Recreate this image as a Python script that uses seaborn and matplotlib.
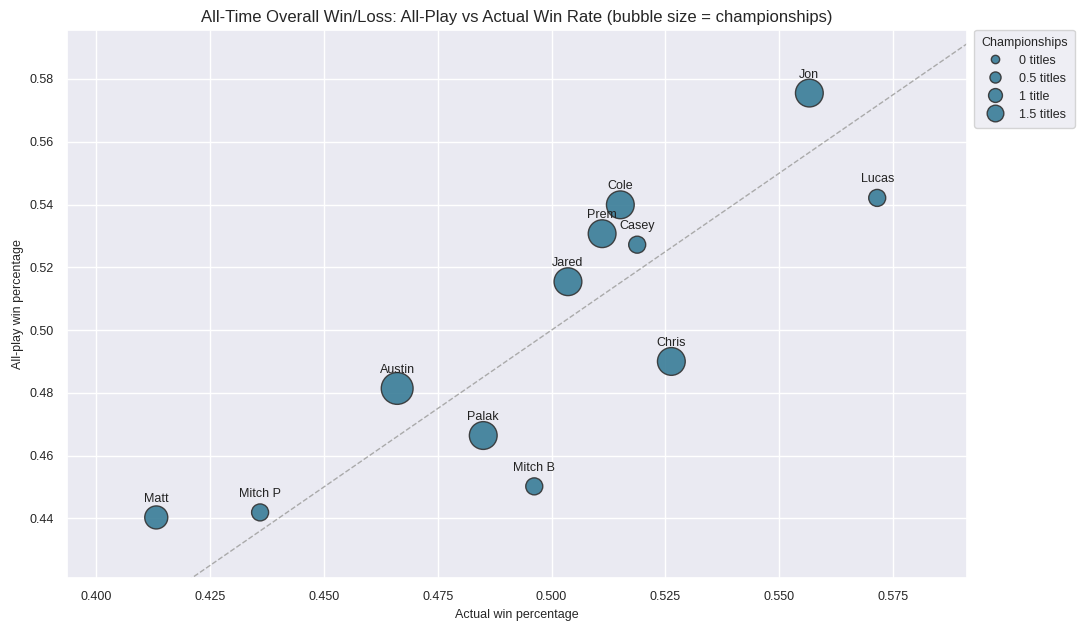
import matplotlib
matplotlib.use("Agg")
import matplotlib.pyplot as plt
from matplotlib.lines import Line2D
import seaborn as sns
import pandas as pd
import numpy as np

managers = ["Jon", "Lucas", "Cole", "Prem", "Casey", "Jared", "Chris",
            "Austin", "Palak", "Mitch B", "Mitch P", "Matt"]
actual_pct = [0.5566, 0.5715, 0.5151, 0.5111, 0.5188, 0.5036, 0.5263,
              0.4661, 0.4850, 0.4962, 0.4360, 0.4132]
allplay_pct = [0.5755, 0.5421, 0.5399, 0.5307, 0.5272, 0.5154, 0.4900,
               0.4814, 0.4664, 0.4502, 0.4419, 0.4403]
championships = [2, 0, 2, 2, 0, 2, 2, 3, 2, 0, 0, 1]

legend_labels = ["0 titles", "0.5 titles", "1 title", "1.5 titles"]
legend_msizes = [6.0, 8.0, 10.0, 12.0]

df = pd.DataFrame({"manager": managers, "actual": actual_pct,
                   "allplay": allplay_pct, "champs": championships})

sns.set_theme(style="darkgrid")
plt.rcParams["font.family"] = ["Liberation Sans", "DejaVu Sans"]

fig, ax = plt.subplots(figsize=(10.84, 6.34), dpi=100)
fig.subplots_adjust(left=0.0618, right=0.892, top=0.9527, bottom=0.0883)

face = "#387c97"
sns.scatterplot(data=df, x="actual", y="allplay", size="champs",
                sizes=(150, 525), size_norm=(0, 3), color=face, alpha=0.9,
                edgecolor="#333333", linewidth=1.0, legend=False, ax=ax, zorder=3)

for _, r in df.iterrows():
    ax.annotate(r["manager"], (r["actual"], r["allplay"]), xytext=(0, 9),
                textcoords="offset points", ha="center", va="bottom",
                fontsize=9, color="#222222", zorder=4)

lo, hi = 0.38, 0.62
ax.plot([lo, hi], [lo, hi], ls="--", color="#aaaaaa", lw=1.0, zorder=2)

ax.set_xlim(0.3936, 0.5912)
ax.set_ylim(0.4210, 0.5956)
xt = [0.400, 0.425, 0.450, 0.475, 0.500, 0.525, 0.550, 0.575]
yt = [0.44, 0.46, 0.48, 0.50, 0.52, 0.54, 0.56, 0.58]
ax.set_xticks(xt)
ax.set_xticklabels([f"{v:.3f}" for v in xt])
ax.set_yticks(yt)
ax.set_yticklabels([f"{v:.2f}" for v in yt])
ax.tick_params(labelsize=9)
ax.set_xlabel("Actual win percentage", fontsize=9)
ax.set_ylabel("All-play win percentage", fontsize=9)
ax.set_title("All-Time Overall Win/Loss: All-Play vs Actual Win Rate (bubble size = championships)",
             fontsize=12)

handles = [Line2D([0], [0], marker="o", linestyle="", markerfacecolor=face,
                  markeredgecolor="#333333", markeredgewidth=1.0, alpha=0.9,
                  markersize=m) for m in legend_msizes]
leg = ax.legend(handles, legend_labels, title="Championships", loc="upper left",
                bbox_to_anchor=(1.008, 1.0), borderaxespad=0, fontsize=9,
                title_fontsize=9, frameon=True, handletextpad=0.9,
                labelspacing=0.48, borderpad=0.55)

fig.savefig("out.png", dpi=100)
